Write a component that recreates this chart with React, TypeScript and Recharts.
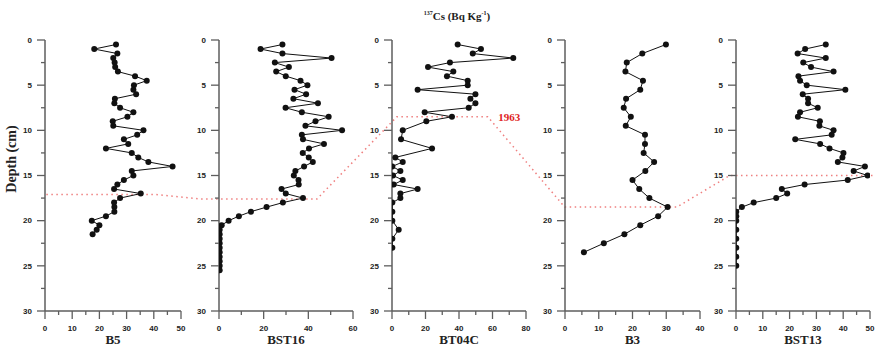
import React from 'react';
import { ScatterChart, Scatter, XAxis, YAxis, LineChart, Line, ReferenceDot } from 'recharts';

// ---------- data ----------
const B5_DEPTH = [0.5, 1, 1.5, 2, 2.5, 3, 3.5, 4, 4.5, 5, 5.5, 6, 6.5, 7, 7.5, 8, 8.5, 9, 9.5, 10, 10.5, 11, 11.5, 12, 12.5, 13, 13.5, 14, 14.5, 15, 15.5, 16, 16.5, 17, 17.5, 18, 18.5, 19, 19.5, 20, 20.5, 21, 21.5];
const B5_CS = [26.1, 18.1, 26.6, 25.1, 25.6, 25.8, 26.8, 33.1, 37.4, 32.7, 32.5, 33.5, 25.7, 25.5, 27.6, 32.5, 30.3, 24.9, 25.1, 36.2, 33.9, 29.0, 30.6, 22.4, 31.9, 34.3, 38.0, 46.9, 31.9, 32.5, 29.0, 26.6, 25.4, 35.2, 27.6, 25.4, 25.5, 25.5, 22.4, 17.2, 20.0, 19.0, 17.5];

const BST16_DEPTH = [0.5, 1, 1.5, 2, 2.5, 3, 3.5, 4, 4.5, 5, 5.5, 6, 6.5, 7, 7.5, 8, 8.5, 9, 9.5, 10, 10.5, 11, 11.5, 12, 12.5, 13, 13.5, 14, 14.5, 15, 15.5, 16, 16.5, 17, 17.5, 18, 18.5, 19, 19.5, 20, 20.5, 21, 21.5, 22, 22.5, 23, 23.5, 24, 24.5, 25, 25.5];
const BST16_CS = [28.4, 18.6, 28.4, 50.4, 25.0, 31.3, 25.6, 29.9, 36.5, 39.6, 33.8, 39.0, 33.3, 44.3, 29.8, 37.1, 49.1, 43.2, 38.7, 55.1, 37.1, 37.6, 47.0, 40.3, 37.5, 40.2, 42.0, 38.1, 34.2, 33.5, 35.6, 35.7, 28.0, 29.9, 37.6, 28.6, 21.3, 14.3, 8.9, 4.3, 1.2, 0.3, 0.3, 0.3, 0.3, 0.3, 0.3, 0.3, 0.3, 0.3, 0.3];

const BT04C_DEPTH = [0.5, 1, 1.5, 2, 2.5, 3, 3.5, 4, 4.5, 5, 5.5, 6, 6.5, 7, 7.5, 8, 8.5, 9, 10, 11, 12, 13, 13.5, 14, 14.5, 15, 15.5, 16, 16.5, 17, 17.5, 18, 19, 20, 21, 22, 23];
const BT04C_CS = [39.2, 53.1, 48.2, 72.4, 34.6, 21.5, 36.6, 32.8, 45.2, 45.2, 15.3, 49.8, 46.8, 49.8, 45.8, 19.5, 35.8, 20.5, 6.4, 5.4, 23.9, 2.0, 6.4, 0.2, 5.0, 0.6, 6.4, 1.0, 15.3, 5.0, 5.0, 0.2, 0.2, 0.2, 4.0, 0.2, 0.2];

const B3_DEPTH = [0.5, 1.5, 2.5, 3.5, 4.5, 5.5, 6.5, 7.5, 8.5, 9.5, 10.5, 11.5, 12.5, 13.5, 14.5, 15.5, 16.5, 17.5, 18.5, 19.5, 20.5, 21.5, 22.5, 23.5];
const B3_CS = [29.9, 22.9, 18.3, 17.9, 23.1, 22.3, 18.1, 17.4, 19.5, 18.0, 23.7, 23.7, 23.3, 26.4, 23.8, 20.0, 22.0, 25.0, 30.4, 27.6, 22.3, 17.6, 11.5, 5.6];

const BST13_DEPTH = [0.5, 1, 1.5, 2, 2.5, 3, 3.5, 4, 4.5, 5, 5.5, 6, 6.5, 7, 7.5, 8, 8.5, 9, 9.5, 10, 10.5, 11, 11.5, 12, 12.5, 13, 13.5, 14, 14.5, 15, 15.5, 16, 16.5, 17, 17.5, 18, 18.5, 19, 19.5, 20, 21, 22, 23, 24, 25];
const BST13_CS = [33.5, 25.8, 23.0, 33.5, 25.1, 28.0, 36.4, 23.3, 23.9, 26.4, 40.8, 24.9, 26.9, 26.9, 30.5, 23.9, 23.1, 31.3, 31.1, 36.4, 35.7, 22.1, 31.4, 34.9, 40.1, 39.7, 38.0, 48.1, 43.9, 49.1, 41.7, 25.6, 17.1, 19.1, 15.0, 6.6, 2.2, 0.1, 0.1, 0.1, 0.1, 0.1, 0.1, 0.1, 0.1];

const CORES = ['B5', 'BST16', 'BT04C', 'B3', 'BST13'];
const DEPTHS = [B5_DEPTH, BST16_DEPTH, BT04C_DEPTH, B3_DEPTH, BST13_DEPTH];
const VALUES = [B5_CS, BST16_CS, BT04C_CS, B3_CS, BST13_CS];

const X_MAX = [50, 60, 80, 40, 50];
const X_TICKS = [
  [0, 5, 10, 15, 20, 25, 30, 35, 40, 45, 50],
  [0, 10, 20, 30, 40, 50, 60],
  [0, 10, 20, 30, 40, 50, 60, 70, 80],
  [0, 5, 10, 15, 20, 25, 30, 35, 40],
  [0, 5, 10, 15, 20, 25, 30, 35, 40, 45, 50],
];
const X_LABELS = [
  [0, 10, 20, 30, 40, 50],
  [0, 20, 40, 60],
  [0, 20, 40, 60, 80],
  [0, 10, 20, 30, 40],
  [0, 10, 20, 30, 40, 50],
];
const Y_TICKS = [0, 2.5, 5, 7.5, 10, 12.5, 15, 17.5, 20, 22.5, 25, 27.5, 30];
const Y_LABELS = [0, 5, 10, 15, 20, 25, 30];

// 1963 marker: depth per core and horizontal extent (in Cs units of that core)
const MARK_DEPTH = [17.1, 17.6, 8.5, 18.5, 15];
const MARK_FROM = [0.5, -8.5, 3, 0, -2.2];
const MARK_TO = [40.4, 43.9, 57.3, 33.2, 52];
const MARK_LABEL = '1963';
const MARK_LABEL_CS = 70; // position on BT04C axis

const TITLE_SUP = '137';
const TITLE_MAIN = 'Cs (Bq Kg';
const TITLE_SUP2 = '-1';
const Y_TITLE = 'Depth (cm)';

// ---------- layout ----------
const W = 875;
const H = 354;
const TOP = 40;
const BOTTOM = 43;
const AXIS_X = [45, 219, 392, 565, 736];
const PLOT_W = [136, 134, 134, 135, 134];
const AXIS_COLOR = '#5e5e5e';
const TICK_FONT = '"Liberation Sans", Arial, sans-serif';
const SERIF = '"Liberation Serif", "Times New Roman", serif';

const XTick = (props: any) => {
  const { x, y, payload, labels } = props;
  const major = labels.includes(payload.value);
  return (
    <g>
      <line x1={x} x2={x} y1={y} y2={y + (major ? 8 : 4)} stroke={AXIS_COLOR} strokeWidth={1.3} />
      {major && (
        <text x={x} y={y + 20} textAnchor="middle" fontSize={8} fontWeight="bold" fontFamily={TICK_FONT} fill="#222">
          {payload.value}
        </text>
      )}
    </g>
  );
};

const YTick = (props: any) => {
  const { x, y, payload } = props;
  const major = Y_LABELS.includes(payload.value);
  return (
    <g>
      <line x1={x - (major ? 8 : 4)} x2={x} y1={y} y2={y} stroke={AXIS_COLOR} strokeWidth={1.3} />
      {major && (
        <text x={x - 13} y={y} dy="0.35em" textAnchor="end" fontSize={8} fontWeight="bold" fontFamily={TICK_FONT} fill="#222">
          {payload.value}
        </text>
      )}
    </g>
  );
};

const Dot = (p: any) => <circle cx={p.cx} cy={p.cy} r={3} fill="#111" />;

function Panel({ i }: { i: number }) {
  const yw = i === 0 ? 45 : 35;
  const right = 14;
  const left = AXIS_X[i] - yw;
  const width = yw + PLOT_W[i] + right;
  const data = DEPTHS[i].map((d, k) => ({ d, v: VALUES[i][k] }));
  return (
    <div style={{ position: 'absolute', left, top: 0 }}>
      <ScatterChart width={width} height={H} margin={{ top: TOP, right, bottom: 0, left: 0 }}>
        <XAxis
          type="number"
          dataKey="v"
          domain={[0, X_MAX[i]]}
          ticks={X_TICKS[i]}
          interval={0}
          height={BOTTOM}
          tickSize={0}
          tickMargin={0}
          tickLine={false}
          allowDataOverflow
          axisLine={{ stroke: AXIS_COLOR, strokeWidth: 1.5 }}
          tick={(p: any) => <XTick {...p} labels={X_LABELS[i]} />}
          label={{
            value: CORES[i],
            position: 'insideBottom',
            offset: 10,
            fill: '#222',
            fontSize: 13,
            fontWeight: 'bold',
            fontFamily: SERIF,
          }}
        />
        <YAxis
          type="number"
          dataKey="d"
          domain={[0, 30]}
          reversed
          ticks={Y_TICKS}
          interval={0}
          width={yw}
          tickSize={0}
          tickMargin={0}
          tickLine={false}
          allowDataOverflow
          axisLine={{ stroke: AXIS_COLOR, strokeWidth: 1.5 }}
          tick={(p: any) => <YTick {...p} />}
        />
        <Scatter
          data={data}
          line={{ stroke: '#111', strokeWidth: 1 }}
          lineType="joint"
          shape={Dot}
          fill="#111"
          isAnimationActive={false}
        />
        {i === 2 && (
          <ReferenceDot
            x={MARK_LABEL_CS}
            y={MARK_DEPTH[2]}
            r={0}
            fill="none"
            stroke="none"
            label={{
              value: MARK_LABEL,
              position: 'center',
              fill: '#e02424',
              fontSize: 11,
              fontWeight: 'bold',
              fontFamily: SERIF,
            }}
          />
        )}
      </ScatterChart>
    </div>
  );
}

function Marker1963() {
  const data = CORES.flatMap((_, i) => [
    { x: AXIS_X[i] + (MARK_FROM[i] * PLOT_W[i]) / X_MAX[i], d: MARK_DEPTH[i] },
    { x: AXIS_X[i] + (MARK_TO[i] * PLOT_W[i]) / X_MAX[i], d: MARK_DEPTH[i] },
  ]);
  return (
    <div style={{ position: 'absolute', left: 0, top: 0 }}>
      <LineChart width={W} height={H} data={data} margin={{ top: TOP, right: 0, bottom: BOTTOM, left: 0 }}>
        <XAxis type="number" dataKey="x" domain={[0, W]} hide />
        <YAxis type="number" domain={[0, 30]} reversed hide />
        <Line
          dataKey="d"
          type="linear"
          stroke="#ef7f7f"
          strokeWidth={1.5}
          strokeDasharray="1.5 3.5"
          dot={false}
          isAnimationActive={false}
        />
      </LineChart>
    </div>
  );
}

export default function App() {
  return (
    <div style={{ position: 'absolute', left: 0, top: 0, width: W, height: H, background: '#fff', overflow: 'hidden' }}>
      <Marker1963 />
      {CORES.map((_, i) => (
        <Panel key={i} i={i} />
      ))}
      <div
        style={{
          position: 'absolute',
          left: 400,
          width: 114,
          top: 5,
          textAlign: 'center',
          fontFamily: SERIF,
          fontWeight: 'bold',
          fontSize: 11,
          color: '#222',
          lineHeight: '16px',
          whiteSpace: 'nowrap',
        }}
      >
        <sup style={{ fontSize: 6 }}>{TITLE_SUP}</sup>
        {TITLE_MAIN}
        <sup style={{ fontSize: 6 }}>{TITLE_SUP2}</sup>)
      </div>
      <div
        style={{
          position: 'absolute',
          left: 12,
          top: 159,
          transform: 'translate(-50%, -50%) rotate(-90deg)',
          fontFamily: SERIF,
          fontWeight: 'bold',
          fontSize: 14,
          color: '#222',
          whiteSpace: 'nowrap',
          lineHeight: '16px',
        }}
      >
        {Y_TITLE}
      </div>
    </div>
  );
}
